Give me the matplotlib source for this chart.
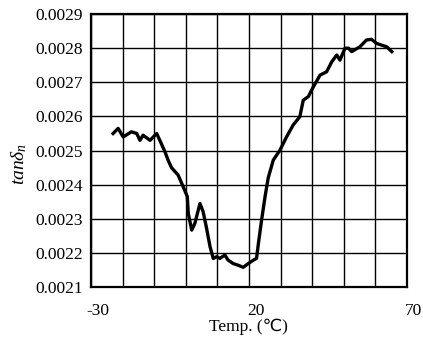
import matplotlib
matplotlib.use("Agg")
import matplotlib.pyplot as plt
import matplotlib.transforms as mtransforms
import numpy as np

# temperature (deg C) and tan delta_n
temp = [-23.0, -21.4, -19.8, -17.2, -15.5, -14.5, -13.5, -11.3, -9.2, -8.2,
        -6.6, -5.5, -4.5, -2.4, -0.8, 0.5, 0.8, 1.9, 2.9, 4.5,
        5.5, 6.6, 7.7, 8.7, 9.8, 10.8, 12.4, 13.4, 15.0, 16.6,
        18.2, 19.8, 21.4, 22.4, 23.0, 24.0, 25.1, 26.1, 27.7, 29.8,
        31.9, 34.0, 36.1, 37.2, 38.8, 40.4, 42.5, 44.6, 46.2, 47.8,
        48.8, 50.4, 51.5, 52.5, 55.1, 57.2, 58.8, 60.4, 63.6, 65.2]
tan_d = [0.002550, 0.002565, 0.002540, 0.002555, 0.002550, 0.002530, 0.002545, 0.002530, 0.002550, 0.002530,
         0.002497, 0.002470, 0.002450, 0.002428, 0.002394, 0.002365, 0.002316, 0.002267, 0.002287, 0.002345,
         0.002321, 0.002272, 0.002218, 0.002184, 0.002189, 0.002184, 0.002194, 0.002179, 0.002169, 0.002164,
         0.002158, 0.002169, 0.002179, 0.002184, 0.002228, 0.002296, 0.002365, 0.002420, 0.002472, 0.002501,
         0.002540, 0.002575, 0.002599, 0.002648, 0.002658, 0.002687, 0.002721, 0.002731, 0.002760, 0.002780,
         0.002765, 0.002800, 0.002800, 0.002790, 0.002804, 0.002824, 0.002826, 0.002814, 0.002804, 0.002790]

xticks = [-30, 20, 70]
yticks = [0.0021, 0.0022, 0.0023, 0.0024, 0.0025, 0.0026, 0.0027, 0.0028, 0.0029]

plt.rcParams['font.family'] = ['Liberation Serif', 'DejaVu Sans']
plt.rcParams['axes.unicode_minus'] = False
plt.rcParams['mathtext.fontset'] = 'custom'
plt.rcParams['mathtext.rm'] = 'Liberation Serif'
plt.rcParams['mathtext.it'] = 'Liberation Serif:italic'

fig = plt.figure(figsize=(4.23, 3.43), dpi=100)
ax = fig.add_axes([0.215, 0.163, 0.747, 0.796])

ax.plot(temp, tan_d, color='black', lw=2.4)

ax.set_xlim(-30, 70)
ax.set_ylim(0.0021, 0.0029)
ax.set_xticks(xticks)
ax.set_xticks(np.arange(-30, 71, 10), minor=True)
ax.set_yticks(yticks)
ax.set_yticklabels(['%.4f' % v for v in yticks])
ax.tick_params(which='both', length=0, labelsize=12.5)
ax.tick_params(axis='x', pad=11.5)
ax.tick_params(axis='y', pad=6)
ax.grid(True, which='both', color='black', lw=1.0)

# x labels sit a bit right of the grid in the original
off = mtransforms.ScaledTranslation(7 / 100, 0, fig.dpi_scale_trans)
for lab in ax.get_xticklabels():
    lab.set_transform(lab.get_transform() + off)

for s in ax.spines.values():
    s.set_linewidth(1.6)

ax.set_xlabel('Temp. (\u2103)', fontsize=12.5, labelpad=0)
ax.set_ylabel(r'$tan\delta_n$', fontsize=14)
ax.yaxis.set_label_coords(-0.195, 0.45)

fig.savefig('out.png', dpi=100)
